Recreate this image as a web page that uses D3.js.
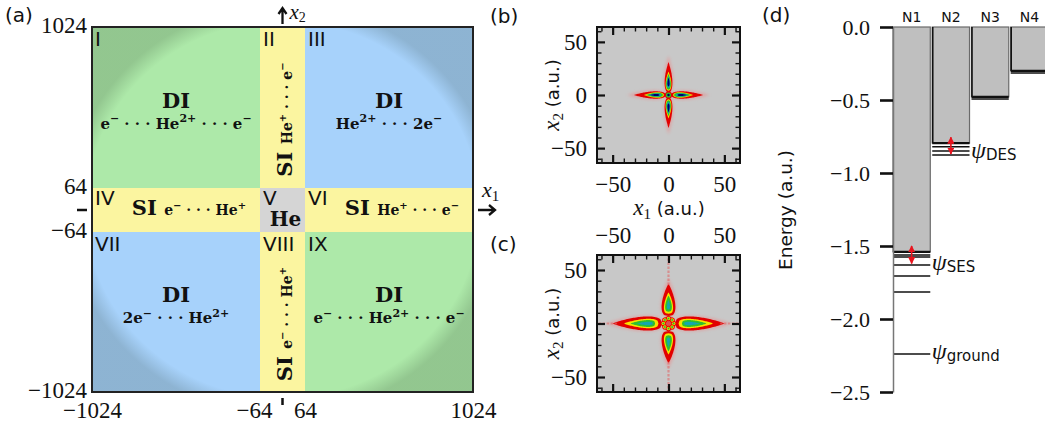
<!DOCTYPE html>
<html>
<head>
<meta charset="utf-8">
<script src="https://cdn.jsdelivr.net/npm/d3@7"></script>
<style>
  body { margin: 0; background: #fff; }
</style>
</head>
<body>
<div id="chart"></div>
<script>
// ---- panel (a): regions of the (x1, x2) plane ----
var bounds = [-1024, -64, 64, 1024];
var regions = [
  { name: "I",    col: 0, row: 2, kind: "DIopp",  title: "DI", text: "e^{−} ··· He^{2+} ··· e^{−}" },
  { name: "II",   col: 1, row: 2, kind: "SI",     title: "SI", text: "He^{+} ··· e^{−}" },
  { name: "III",  col: 2, row: 2, kind: "DIsame", title: "DI", text: "He^{2+} ··· 2e^{−}" },
  { name: "IV",   col: 0, row: 1, kind: "SI",     title: "SI", text: "e^{−} ··· He^{+}" },
  { name: "V",    col: 1, row: 1, kind: "He",     title: "He", text: "" },
  { name: "VI",   col: 2, row: 1, kind: "SI",     title: "SI", text: "He^{+} ··· e^{−}" },
  { name: "VII",  col: 0, row: 0, kind: "DIsame", title: "DI", text: "2e^{−} ··· He^{2+}" },
  { name: "VIII", col: 1, row: 0, kind: "SI",     title: "SI", text: "e^{−} ··· He^{+}" },
  { name: "IX",   col: 2, row: 0, kind: "DIopp",  title: "DI", text: "e^{−} ··· He^{2+} ··· e^{−}" }
];

// ---- panels (b), (c): density lobes along the axes ----
var mapMajorTicks = [-50, 0, 50];
var mapMinorTicks = [-60, -40, -30, -20, -10, 10, 20, 30, 40, 60];
var densityLevels = ["halo", "red", "yellow", "green", "cyan", "navy"];
// [start, end, half width] of each contour of a lobe, a.u. (one entry per level)
var lobesB  = [[1, 37, 4.4], [2, 31, 3.5], [4, 22, 2.6], [5, 20, 2.1], [6.5, 18, 1.5], [8, 16.5, 1.0]];
var coreB   = [[3.2, "red"], [2.3, "green"], [1.1, "navy"]];
var lobesCx = [[5, 56, 7.4], [6, 50, 6.6], [9, 40, 4.4], [12, 34, 3.2], [14, 28, 1.6]];
var lobesCy = [[6, 42, 7.0], [7, 37, 6.2], [9, 29, 4.1], [11, 26, 3.0], [13, 22, 1.4]];
var ringC = [[4.6, 0], [4.6, 45], [4.6, 90], [4.6, 135], [4.6, 180], [4.6, 225], [4.6, 270], [4.6, 315]];
var ringCLevels = [[2.3, "red"], [1.6, "yellow"], [0.9, "green"]];
var streakCx = [46, 64], streakCy = [36, 64];

// ---- panel (d): energy levels ----
var channels = ["N1", "N2", "N3", "N4"];
var thresholds = [-1.54, -0.795, -0.478, -0.30];
var boundLevels = [["N1", -1.562], ["N1", -1.575], ["N1", -1.63], ["N1", -1.705], ["N1", -1.815], ["N1", -2.24],
                   ["N2", -0.82], ["N2", -0.85], ["N2", -0.877], ["N3", -0.493], ["N4", -0.315]];
var transitions = [["N1", -1.62, -1.50], ["N2", -0.87, -0.755]];
var stateLabels = [["N2", -0.86, "DES"], ["N1", -1.63, "SES"], ["N1", -2.24, "ground"]];
var energyTicks = [0, -0.5, -1, -1.5, -2, -2.5];

var SERIF = "'Liberation Serif', serif";
var BSERIF = "'DejaVu Serif', serif";
var SANS = "'DejaVu Sans', sans-serif";

var svg = d3.select("#chart").append("svg").attr("width", 1045).attr("height", 423);
var defs = svg.append("defs");

function rich(t, str, size, supSize) {
  var parts = str.split(/(\^\{[^}]*\})/), shift = 0;
  parts.forEach(function(p) {
    if (!p) return;
    if (p[0] === "^") {
      t.append("tspan").attr("font-size", supSize).attr("dy", -size * 0.42 + shift).text(p.slice(2, -1));
      shift = size * 0.42;
    } else {
      t.append("tspan").attr("font-size", size).attr("dy", shift).text(p.replace(/···/g, " ·  ·  · "));
      shift = 0;
    }
  });
}

// ================= (a) =================
var xA = d3.scaleLinear().domain(bounds).range([92, 260, 305, 473]);
var yA = d3.scaleLinear().domain(bounds).range([392, 232, 188, 27]);
var fillA = d3.scaleOrdinal().domain(["DIopp", "DIsame", "SI", "He"])
  .range(["#ade9a9", "#a7d2fb", "#fbf5a0", "#d5d5d5"]);

var shade = defs.append("radialGradient").attr("id", "shade").attr("cx", 0.5).attr("cy", 0.5).attr("r", 0.6);
shade.append("stop").attr("offset", 0.86).attr("stop-color", "#1a2a1a").attr("stop-opacity", 0);
shade.append("stop").attr("offset", 0.94).attr("stop-color", "#1a2a1a").attr("stop-opacity", 0.18);

var gA = svg.append("g");
gA.selectAll("rect.reg").data(regions).enter().append("rect")
  .attr("x", function(d) { return xA(bounds[d.col]); })
  .attr("y", function(d) { return yA(bounds[d.row + 1]); })
  .attr("width", function(d) { return xA(bounds[d.col + 1]) - xA(bounds[d.col]); })
  .attr("height", function(d) { return yA(bounds[d.row]) - yA(bounds[d.row + 1]); })
  .attr("fill", function(d) { return fillA(d.kind); });

gA.append("rect").attr("x", xA(-1024)).attr("y", yA(1024))
  .attr("width", xA(1024) - xA(-1024)).attr("height", yA(-1024) - yA(1024))
  .attr("fill", "url(#shade)").attr("stroke", "#222").attr("stroke-width", 2);

regions.forEach(function(d) {
  var x0 = xA(bounds[d.col]), x1 = xA(bounds[d.col + 1]);
  var y0 = yA(bounds[d.row + 1]), y1 = yA(bounds[d.row]);
  var cx = (x0 + x1) / 2, cy = (y0 + y1) / 2;
  gA.append("text").attr("x", x0 + 3).attr("y", y0 + (d.row === 1 ? 17 : 19))
    .attr("font-family", SANS).attr("font-size", 20).attr("fill", "#111").text(d.name);
  if (d.title === "DI") {
    var off = d.row === 2 ? 0 : -10;
    gA.append("text").attr("x", cx).attr("y", cy + off).attr("text-anchor", "middle")
      .attr("font-family", BSERIF).attr("font-weight", "bold").attr("font-size", 21).attr("fill", "#111").text("DI");
    var t = gA.append("text").attr("x", cx).attr("y", cy + off + 21).attr("text-anchor", "middle")
      .attr("font-family", BSERIF).attr("font-weight", "bold").attr("fill", "#111");
    rich(t, d.text, 15, 11);
  } else if (d.title === "He") {
    gA.append("text").attr("x", cx + 3).attr("y", cy + 16).attr("text-anchor", "middle")
      .attr("font-family", BSERIF).attr("font-weight", "bold").attr("font-size", 20).attr("fill", "#111").text("He");
  } else {
    var t2;
    if (d.row === 1) {
      t2 = gA.append("text").attr("x", cx + 13).attr("y", cy + 5).attr("text-anchor", "middle");
    } else {
      t2 = gA.append("text").attr("text-anchor", "middle")
        .attr("transform", "translate(" + (cx + 9) + "," + (cy + 12) + ") rotate(-90)");
    }
    t2.attr("font-family", BSERIF).attr("font-weight", "bold").attr("fill", "#111");
    t2.append("tspan").attr("font-size", 21).text("SI  ");
    rich(t2, d.text, 14, 10);
  }
});

// axes of (a)
var axLA = gA.append("g").attr("transform", "translate(" + xA(-1024) + ",0)")
  .call(d3.axisLeft(yA).tickValues(bounds).tickSize(0).tickPadding(5).tickFormat(d3.format("d")));
var axBA = gA.append("g").attr("transform", "translate(0," + yA(-1024) + ")")
  .call(d3.axisBottom(xA).tickValues(bounds).tickSize(0).tickPadding(10).tickFormat(d3.format("d")));
[axLA, axBA].forEach(function(a) {
  a.select(".domain").remove();
  a.selectAll("text").attr("font-family", SERIF).attr("font-size", 23).attr("fill", "#111");
});
axLA.selectAll(".tick text").attr("dy", "0.24em");
axBA.selectAll(".tick text").filter(function(d) { return d === -64; }).attr("dx", -6);
// zero marks
gA.append("line").attr("x1", 77).attr("x2", 87).attr("y1", yA(0)).attr("y2", yA(0)).attr("stroke", "#111").attr("stroke-width", 2.5);
gA.append("line").attr("x1", xA(0)).attr("x2", xA(0)).attr("y1", 398).attr("y2", 405).attr("stroke", "#111").attr("stroke-width", 2.5);

// coordinate arrows
gA.append("path").attr("d", "M" + xA(0) + ",24V9M" + (xA(0) - 4) + ",14L" + xA(0) + ",8L" + (xA(0) + 4) + ",14")
  .attr("fill", "none").attr("stroke", "#111").attr("stroke-width", 2.3);
var tx2 = gA.append("text").attr("x", xA(0) + 7).attr("y", 19).attr("fill", "#111");
tx2.append("tspan").attr("font-family", SERIF).attr("font-style", "italic").attr("font-size", 21).text("x");
tx2.append("tspan").attr("font-family", SERIF).attr("font-size", 14).attr("dy", 3).text("2");
gA.append("path").attr("d", "M478," + yA(0) + "H495M489," + (yA(0) - 5) + "L495," + yA(0) + "L489," + (yA(0) + 5))
  .attr("fill", "none").attr("stroke", "#111").attr("stroke-width", 2.3);
var tx1 = gA.append("text").attr("x", 482).attr("y", 197).attr("fill", "#111");
tx1.append("tspan").attr("font-family", SERIF).attr("font-style", "italic").attr("font-size", 22).text("x");
tx1.append("tspan").attr("font-family", SERIF).attr("font-size", 15).attr("dy", 4).text("1");

svg.append("text").attr("x", 5).attr("y", 22).attr("font-family", SANS).attr("font-size", 20).attr("fill", "#111").text("(a)");

// ================= (b), (c) =================
var densityColor = d3.scaleOrdinal().domain(densityLevels)
  .range(["#e98b8b", "#e20000", "#f4e400", "#2dbf2d", "#12a6ae", "#00006e"]);

var soft = defs.append("filter").attr("id", "soft").attr("x", "-20%").attr("y", "-20%").attr("width", "140%").attr("height", "140%");
soft.append("feGaussianBlur").attr("stdDeviation", 0.6);
var haze = defs.append("filter").attr("id", "haze").attr("x", "-20%").attr("y", "-20%").attr("width", "140%").attr("height", "140%");
haze.append("feGaussianBlur").attr("stdDeviation", 1.6);

function lobePath(level, dir, xS, yS, a, b) {
  var s0 = level[0], s1 = level[1], hw = level[2];
  var norm = Math.pow(a / (a + b), a) * Math.pow(b / (a + b), b);
  var up = [], dn = [];
  for (var i = 0; i <= 40; i++) {
    var t = i / 40, s = s0 + (s1 - s0) * t;
    var w = hw * Math.pow(t, a) * Math.pow(1 - t, b) / norm;
    up.push([s, w]); dn.push([s, -w]);
  }
  return d3.line()
    .x(function(p) { return xS(p[0] * dir[0] - p[1] * dir[1]); })
    .y(function(p) { return yS(p[0] * dir[1] + p[1] * dir[0]); })
    .curve(d3.curveLinearClosed)(up.concat(dn.reverse()));
}

function mapPanel(id, yRange, lobesX, lobesY, shapeA, shapeB) {
  var x = d3.scaleLinear().domain([-64, 64]).range([597, 740]);
  var y = d3.scaleLinear().domain([-64, 64]).range(yRange);
  var g = svg.append("g");
  defs.append("clipPath").attr("id", "clip" + id).append("rect")
    .attr("x", x(-64)).attr("y", y(64)).attr("width", x(64) - x(-64)).attr("height", y(-64) - y(64));
  g.append("rect").attr("x", x(-64)).attr("y", y(64)).attr("width", x(64) - x(-64)).attr("height", y(-64) - y(64))
    .attr("fill", "#c8c8c8");
  var m = g.append("g").attr("clip-path", "url(#clip" + id + ")");
  var dirsX = [[1, 0], [-1, 0]], dirsY = [[0, 1], [0, -1]];
  [[lobesX, dirsX], [lobesY, dirsY]].forEach(function(pair) {
    pair[0].forEach(function(level, li) {
      pair[1].forEach(function(dir) {
        m.append("path").attr("d", lobePath(level, dir, x, y, shapeA, shapeB))
          .attr("fill", densityColor(densityLevels[li]))
          .attr("opacity", li === 0 ? 0.55 : 1)
          .attr("filter", li === 0 ? "url(#haze)" : "url(#soft)");
      });
    });
  });
  return { g: g, m: m, x: x, y: y };
}

function mapAxes(p, showTop, showBottom) {
  var g = p.g, x = p.x, y = p.y;
  var x0 = x(-64), x1 = x(64), y0 = y(-64), y1 = y(64);
  var specs = [
    [d3.axisBottom(x), "translate(0," + y0 + ")", showBottom, 13],
    [d3.axisTop(x), "translate(0," + y1 + ")", showTop, 12],
    [d3.axisLeft(y), "translate(" + x0 + ",0)", true, 10],
    [d3.axisRight(y), "translate(" + x1 + ",0)", false, 10]
  ];
  specs.forEach(function(s) {
    var minor = g.append("g").attr("transform", s[1])
      .call(s[0].tickValues(mapMinorTicks).tickSize(-4.5).tickFormat(""));
    minor.select(".domain").remove();
    minor.selectAll("line").attr("stroke", "#111").attr("stroke-width", 1.4);
  });
  var specs2 = [
    [d3.axisBottom(x), "translate(0," + y0 + ")", showBottom, 13],
    [d3.axisTop(x), "translate(0," + y1 + ")", showTop, 12],
    [d3.axisLeft(y), "translate(" + x0 + ",0)", true, 10],
    [d3.axisRight(y), "translate(" + x1 + ",0)", false, 10]
  ];
  specs2.forEach(function(s) {
    var ax = s[0].tickValues(mapMajorTicks).tickSize(-8).tickPadding(s[3]);
    if (!s[2]) ax.tickFormat("");
    var a = g.append("g").attr("transform", s[1]).call(ax);
    a.select(".domain").remove();
    a.selectAll("line").attr("stroke", "#111").attr("stroke-width", 2.2);
    a.selectAll("text").attr("font-family", SERIF).attr("font-size", 23).attr("fill", "#111");
  });
  g.append("rect").attr("x", x0).attr("y", y1).attr("width", x1 - x0).attr("height", y0 - y1)
    .attr("fill", "none").attr("stroke", "#111").attr("stroke-width", 2);
  var yl = g.append("text").attr("text-anchor", "middle")
    .attr("transform", "translate(559," + ((y0 + y1) / 2) + ") rotate(-90)").attr("fill", "#111");
  yl.append("tspan").attr("font-family", SERIF).attr("font-style", "italic").attr("font-size", 23).text("x");
  yl.append("tspan").attr("font-family", SERIF).attr("font-size", 15).attr("dy", 4).text("2");
  yl.append("tspan").attr("font-family", SANS).attr("font-size", 18).attr("dy", -4).text(" (a.u.)");
}

// (b)
var pB = mapPanel("b", [163, 27], lobesB, lobesB, 0.5, 1.0);
coreB.forEach(function(c) {
  pB.m.append("circle").attr("cx", pB.x(0)).attr("cy", pB.y(0))
    .attr("r", pB.x(c[0]) - pB.x(0)).attr("fill", densityColor(c[1])).attr("filter", "url(#soft)");
});
mapAxes(pB, false, true);
var xl = svg.append("text").attr("x", 669).attr("y", 215).attr("text-anchor", "middle").attr("fill", "#111");
xl.append("tspan").attr("font-family", SERIF).attr("font-style", "italic").attr("font-size", 23).text("x");
xl.append("tspan").attr("font-family", SERIF).attr("font-size", 15).attr("dy", 4).text("1");
xl.append("tspan").attr("font-family", SANS).attr("font-size", 18).attr("dy", -4).text(" (a.u.)");
svg.append("text").attr("x", 490).attr("y", 23).attr("font-family", SANS).attr("font-size", 20).attr("fill", "#111").text("(b)");

// (c)
var pC = mapPanel("c", [392, 255], lobesCx, lobesCy, 0.35, 0.9);
[[streakCx, [[1, 0], [-1, 0]]], [streakCy, [[0, 1], [0, -1]]]].forEach(function(s) {
  s[1].forEach(function(dir) {
    pC.m.append("line")
      .attr("x1", pC.x(s[0][0] * dir[0])).attr("y1", pC.y(s[0][0] * dir[1]))
      .attr("x2", pC.x(s[0][1] * dir[0])).attr("y2", pC.y(s[0][1] * dir[1]))
      .attr("stroke", "#e06a6a").attr("stroke-width", 2.2).attr("stroke-dasharray", "2.5 1.5").attr("opacity", 0.6);
  });
});
pC.m.append("circle").attr("cx", pC.x(0)).attr("cy", pC.y(0)).attr("r", pC.x(6.5) - pC.x(0))
  .attr("fill", "#e05050").attr("filter", "url(#soft)");
ringC.forEach(function(b) {
  var bx = b[0] * Math.cos(b[1] * Math.PI / 180), by = b[0] * Math.sin(b[1] * Math.PI / 180);
  ringCLevels.forEach(function(l) {
    pC.m.append("circle").attr("cx", pC.x(bx)).attr("cy", pC.y(by)).attr("r", pC.x(l[0]) - pC.x(0))
      .attr("fill", densityColor(l[1])).attr("filter", "url(#soft)");
  });
});
mapAxes(pC, true, false);
svg.append("text").attr("x", 490).attr("y", 251).attr("font-family", SANS).attr("font-size", 20).attr("fill", "#111").text("(c)");

// ================= (d) =================
var xD = d3.scaleBand().domain(channels).range([893, 1048]).paddingInner(0.05);
var yD = d3.scaleLinear().domain([-2.5, 0]).range([392, 27]);
var bw = xD.bandwidth();
var gD = svg.append("g");

gD.selectAll("rect.bar").data(channels).enter().append("rect")
  .attr("x", function(d) { return xD(d); })
  .attr("y", yD(0))
  .attr("width", bw)
  .attr("height", function(d, i) { return yD(thresholds[i]) - yD(0); })
  .attr("fill", "#bfbfbf").attr("stroke", "#6a6a6a").attr("stroke-width", 1.2);
channels.forEach(function(c, i) {
  if (i > 0) {
    gD.append("line").attr("x1", xD(c) + 0.5).attr("x2", xD(c) + 0.5).attr("y1", yD(0)).attr("y2", yD(thresholds[i]))
      .attr("stroke", "#111").attr("stroke-width", 1.6);
  }
  gD.append("line").attr("x1", xD(c)).attr("x2", xD(c) + bw).attr("y1", yD(thresholds[i])).attr("y2", yD(thresholds[i]))
    .attr("stroke", "#111").attr("stroke-width", 2.2);
});
gD.selectAll("line.lev").data(boundLevels).enter().append("line")
  .attr("x1", function(d) { return xD(d[0]); })
  .attr("x2", function(d) { return xD(d[0]) + bw; })
  .attr("y1", function(d) { return yD(d[1]); })
  .attr("y2", function(d) { return yD(d[1]); })
  .attr("stroke", "#111").attr("stroke-width", 1.5);

gD.selectAll("text.ch").data(channels).enter().append("text")
  .attr("x", function(d) { return xD(d) + bw / 2; }).attr("y", 22)
  .attr("text-anchor", "middle").attr("font-family", SANS).attr("font-size", 14).attr("fill", "#111")
  .text(function(d) { return d; });

var axD = gD.append("g").attr("transform", "translate(893,0)")
  .call(d3.axisLeft(yD).tickValues(energyTicks).tickSize(13).tickSizeOuter(0).tickPadding(10).tickFormat(d3.format(".1f")));
axD.select(".domain").attr("stroke", "#777").attr("stroke-width", 1.5);
axD.selectAll(".tick line").attr("stroke", "#111").attr("stroke-width", 2.6);
axD.selectAll("text").attr("font-family", SERIF).attr("font-size", 22).attr("fill", "#111");

defs.append("marker").attr("id", "redhead").attr("viewBox", "0 0 10 10").attr("refX", 9).attr("refY", 5)
  .attr("markerWidth", 4.5).attr("markerHeight", 4.5).attr("orient", "auto-start-reverse")
  .append("path").attr("d", "M0,0L10,5L0,10z").attr("fill", "#e8141e");
gD.selectAll("line.tr").data(transitions).enter().append("line")
  .attr("x1", function(d) { return xD(d[0]) + bw / 2; })
  .attr("x2", function(d) { return xD(d[0]) + bw / 2; })
  .attr("y1", function(d) { return yD(d[1]); })
  .attr("y2", function(d) { return yD(d[2]); })
  .attr("stroke", "#e8141e").attr("stroke-width", 1.6)
  .attr("marker-start", "url(#redhead)").attr("marker-end", "url(#redhead)");

stateLabels.forEach(function(s) {
  var t = gD.append("text").attr("x", xD(s[0]) + bw + 1.5).attr("y", yD(s[1]) + 5).attr("fill", "#111");
  t.append("tspan").attr("font-family", SERIF).attr("font-style", "italic").attr("font-size", 24).text("ψ");
  t.append("tspan").attr("font-family", SANS).attr("font-size", 15).attr("dy", 2).text(s[2]);
});

svg.append("text").attr("text-anchor", "middle").attr("transform", "translate(792,210) rotate(-90)")
  .attr("font-family", SANS).attr("font-size", 18.5).attr("fill", "#111").text("Energy (a.u.)");
svg.append("text").attr("x", 762).attr("y", 22).attr("font-family", SANS).attr("font-size", 20).attr("fill", "#111").text("(d)");
</script>
</body>
</html>
